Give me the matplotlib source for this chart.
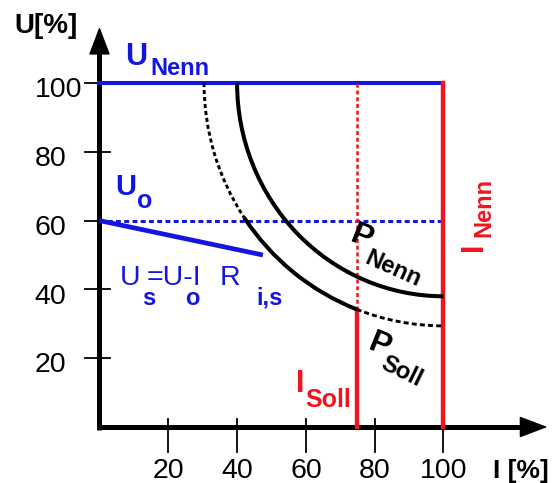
import matplotlib
matplotlib.use('Agg')
import matplotlib.pyplot as plt
from matplotlib.patches import Arc

plt.rcParams['font.family'] = ['Liberation Sans', 'DejaVu Sans']

BLUE = '#1515e0'
RED = '#f0141e'

# axis ticks
x_ticks = [20, 40, 60, 80, 100]
y_ticks = [20, 40, 60, 80, 100]

# reference levels (percent)
u_nenn = 100
u_o = 60
i_nenn = 100
i_soll = 75
u_at_i_soll = 34  # where P_Soll meets I_Soll

# source line U_s = U_o - I*R
us_i = [0, 47.5]
us_u = [60, 50]

# power curves, drawn as quarter ellipses around (100, 100)
arc_center = (100, 100)
p_nenn_radius = (60, 62)
p_soll_radius = (69.6, 70.6)
p_soll_angles = [180, 214, 249, 270]  # dotted / solid / dashed pieces

fig = plt.figure(figsize=(5.57, 4.83), dpi=100)
ax = fig.add_axes([0, 0, 1, 1])
ax.set_xlim(-28.92, 133.0)
ax.set_ylim(-16.28, 124.13)
ax.axis('off')

# axes with arrows
ax.plot([-0.75, 126], [0, 0], color='black', lw=3.6, solid_capstyle='butt')
ax.plot([0, 0], [-0.9, 110], color='black', lw=3.6, solid_capstyle='butt')
ax.annotate('', xy=(130.2, 0), xytext=(120, 0),
            arrowprops=dict(arrowstyle='-|>,head_length=1.0,head_width=0.38',
                            color='black', lw=1, mutation_scale=18,
                            shrinkA=0, shrinkB=0))
ax.annotate('', xy=(0, 116.3), xytext=(0, 106),
            arrowprops=dict(arrowstyle='-|>,head_length=1.0,head_width=0.38',
                            color='black', lw=1, mutation_scale=18,
                            shrinkA=0, shrinkB=0))

for t in x_ticks:
    ax.plot([t, t], [2.2, -7.3], color='black', lw=1.3, zorder=1)
    ax.text(t, -14.9, str(t), fontsize=20.5, ha='center', va='baseline')
for t in y_ticks:
    ax.plot([-4.2, 3.0], [t, t], color='black', lw=1.3, zorder=1)
    ax.text(-18.9, t - 4.1, str(t), fontsize=20.5, ha='left', va='baseline')

ax.text(-24.8, 114.5, 'U[%]', fontsize=20, fontweight='bold', ha='left', va='baseline')
ax.text(114.3, -14.9, 'I [%]', fontsize=19, fontweight='bold', ha='left', va='baseline')

# blue voltage lines
ax.plot([0, i_nenn], [u_nenn, u_nenn], color=BLUE, lw=2.9, zorder=3)
ax.plot([0, i_nenn], [u_o, u_o], color=BLUE, lw=2.2, ls=(0, (1.6, 1.1)), zorder=3)
ax.plot(us_i, us_u, color=BLUE, lw=3.4, solid_capstyle='butt', zorder=3)

# red current lines
ax.plot([i_nenn, i_nenn], [0, u_nenn], color=RED, lw=3.2, zorder=4)
ax.plot([i_soll, i_soll], [0, u_at_i_soll], color=RED, lw=3.2, zorder=4)
ax.plot([i_soll, i_soll], [u_at_i_soll, u_nenn], color=RED, lw=1.8,
        ls=(0, (1.6, 1.1)), zorder=4)

# power curves
ax.add_patch(Arc(arc_center, 2 * p_nenn_radius[0], 2 * p_nenn_radius[1],
                 theta1=180, theta2=270, color='black', lw=2.9, zorder=5))
soll_styles = [(0, (1.4, 1.0)), '-', (0, (1.7, 1.1))]
soll_widths = [2.1, 2.9, 2.1]
for k in range(3):
    ax.add_patch(Arc(arc_center, 2 * p_soll_radius[0], 2 * p_soll_radius[1],
                     theta1=p_soll_angles[k], theta2=p_soll_angles[k + 1],
                     color='black', lw=soll_widths[k], ls=soll_styles[k], zorder=5))

# labels
ax.text(7.4, 105.2, 'U', color=BLUE, fontsize=22, fontweight='bold', ha='left', va='baseline')
ax.text(14.8, 102.3, 'Nenn', color=BLUE, fontsize=17, fontweight='bold', ha='left', va='baseline')

ax.text(4.6, 67.4, 'U', color=BLUE, fontsize=21, fontweight='bold', ha='left', va='baseline')
ax.text(10.9, 63.7, 'o', color=BLUE, fontsize=18, fontweight='bold', ha='left', va='baseline')

ax.text(5.96, 41.3, 'U', color=BLUE, fontsize=20.5, ha='left', va='baseline')
ax.text(12.5, 35.5, 's', color=BLUE, fontsize=17, fontweight='bold', ha='left', va='baseline')
ax.text(13.7, 41.3, '=U-I', color=BLUE, fontsize=20.5, ha='left', va='baseline')
ax.text(24.8, 35.5, 'o', color=BLUE, fontsize=17, fontweight='bold', ha='left', va='baseline')
ax.text(35.0, 41.3, 'R', color=BLUE, fontsize=20.5, ha='left', va='baseline')
ax.text(45.5, 35.5, 'i,s', color=BLUE, fontsize=17, fontweight='bold', ha='left', va='baseline')

ax.text(76.3, 55.2, 'P', fontsize=23, fontweight='bold', rotation=-22,
        ha='center', va='center', rotation_mode='anchor', zorder=6)
ax.text(85.3, 45.9, 'Nenn', fontsize=17, fontweight='bold', rotation=-24,
        ha='center', va='center', rotation_mode='anchor', zorder=6)
ax.text(81.5, 23.8, 'P', fontsize=23, fontweight='bold', rotation=-22,
        ha='center', va='center', rotation_mode='anchor', zorder=6)
ax.text(87.9, 16.0, 'Soll', fontsize=17, fontweight='bold', rotation=-26,
        ha='center', va='center', rotation_mode='anchor', zorder=6)

ax.text(57.1, 10.2, 'I', color=RED, fontsize=22, fontweight='bold', ha='left', va='baseline')
ax.text(59.9, 5.8, 'Soll', color=RED, fontsize=18, fontweight='bold', ha='left', va='baseline')

ax.text(111.2, 51.2, 'I', color=RED, fontsize=22, fontweight='bold', rotation=90,
        ha='left', va='baseline', rotation_mode='anchor')
ax.text(113.5, 55.1, 'Nenn', color=RED, fontsize=17, fontweight='bold', rotation=90,
        ha='left', va='baseline', rotation_mode='anchor')

fig.savefig('out.png', dpi=100, facecolor='white')
plt.close(fig)
